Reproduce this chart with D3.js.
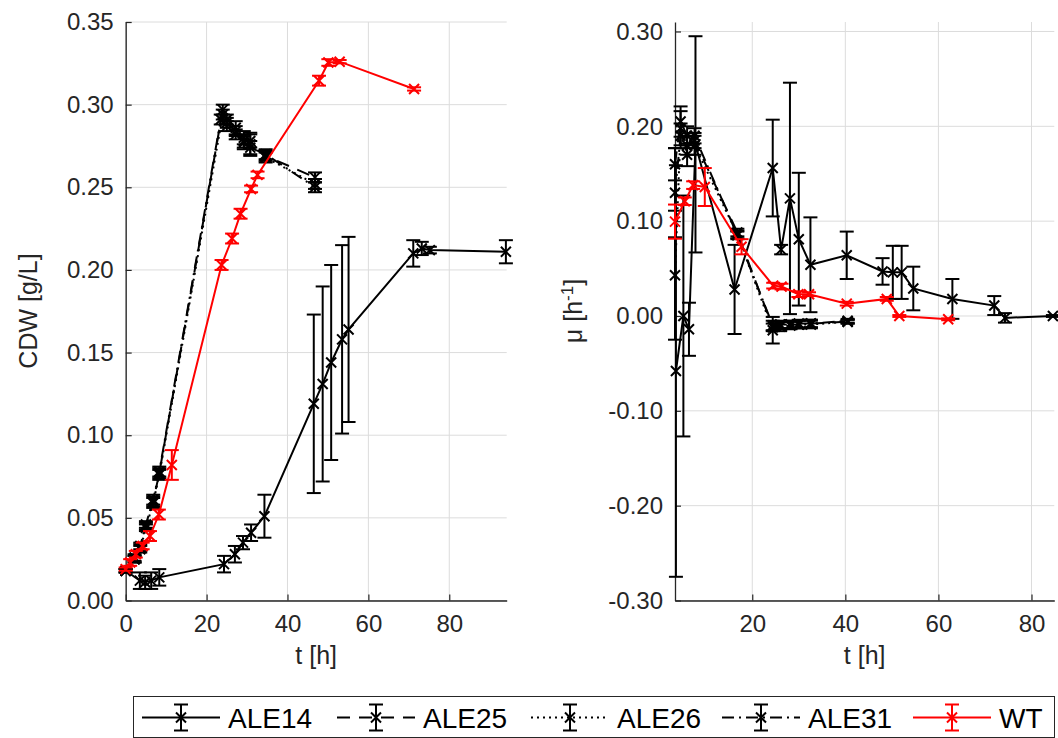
<!DOCTYPE html>
<html><head><meta charset="utf-8">
<script src="https://cdn.jsdelivr.net/npm/d3@7"></script>
<style>body{margin:0;background:#fff}svg{display:block;font-family:"Liberation Sans",Arial,sans-serif}</style>
</head><body><svg id="c" width="1058" height="738"></svg>
<script>
// ---------- data (left: CDW) ----------
const tCdw14 = [0, 3.5, 4.8, 6.3, 8.3, 24.3, 27.0, 29.0, 31.0, 34.3, 46.5, 48.7, 50.8, 53.5, 55.1, 71.1, 73.2, 75.2, 94.0];
const cdw14 = [0.018, 0.012, 0.011, 0.012, 0.014, 0.022, 0.028, 0.035, 0.041, 0.051, 0.119, 0.131, 0.144, 0.158, 0.164, 0.210, 0.213, 0.212, 0.211];
const cdw14Err = [0.001, 0.005, 0.004, 0.005, 0.005, 0.005, 0.005, 0.004, 0.005, 0.013, 0.054, 0.059, 0.059, 0.057, 0.056, 0.008, 0.004, 0.002, 0.007];

const tCdwAle = [0, 2.2, 3.6, 5.0, 6.8, 8.3, 24.0, 25.0, 27.2, 29.2, 30.8, 34.6, 46.8];
const cdw25 = [0.018, 0.025, 0.032, 0.045, 0.060, 0.077, 0.297, 0.291, 0.286, 0.280, 0.276, 0.269, 0.256];
const cdw25Err = [0.001, 0.002, 0.002, 0.002, 0.003, 0.003, 0.003, 0.003, 0.004, 0.004, 0.007, 0.003, 0.003];
const cdw26 = [0.018, 0.025, 0.031, 0.044, 0.059, 0.076, 0.294, 0.289, 0.284, 0.278, 0.278, 0.268, 0.252];
const cdw26Err = [0.001, 0.002, 0.002, 0.002, 0.003, 0.003, 0.003, 0.003, 0.003, 0.004, 0.004, 0.003, 0.003];
const tCdw31 = [0, 2.2, 3.6, 5.0, 6.8, 8.3, 23.5, 25.0, 27.2, 29.2, 30.8, 34.6, 46.8];
const cdw31 = [0.018, 0.026, 0.033, 0.046, 0.061, 0.078, 0.291, 0.287, 0.282, 0.277, 0.274, 0.270, 0.250];
const cdw31Err = [0.001, 0.002, 0.002, 0.002, 0.003, 0.003, 0.003, 0.003, 0.003, 0.004, 0.004, 0.003, 0.003];

const tCdwWT = [0, 1.1, 2.5, 4.2, 6.0, 8.2, 11.4, 23.7, 26.3, 28.4, 31.0, 32.6, 47.8, 50.1, 52.9, 71.3];
const cdwWT = [0.019, 0.023, 0.028, 0.033, 0.039, 0.052, 0.082, 0.203, 0.219, 0.234, 0.249, 0.2575, 0.3145, 0.3255, 0.326, 0.3095];
const cdwWTErr = [0.001, 0.002, 0.002, 0.002, 0.003, 0.003, 0.009, 0.003, 0.003, 0.003, 0.002, 0.002, 0.003, 0.002, 0.001, 0.001];

// ---------- data (right: growth rate mu) ----------
const tMu14 = [3.6, 5.2, 6.4, 7.8, 16.2, 24.4, 26.2, 28.1, 30.0, 32.5, 40.3, 48.0, 50.2, 52.1, 54.6, 63.0, 72.0, 74.3, 84.6];
const mu14 = [-0.058, 0.0, -0.014, 0.181, 0.028, 0.156, 0.070, 0.124, 0.081, 0.054, 0.064, 0.047, 0.046, 0.046, 0.029, 0.018, 0.011, -0.002, 0.0];
const mu14Err = [0.217, 0.127, 0.028, 0.114, 0.047, 0.051, 0.005, 0.122, 0.070, 0.050, 0.025, 0.014, 0.028, 0.028, 0.023, 0.021, 0.010, 0.005, 0.001];

const tMuAle = [3.4, 4.6, 6.0, 7.6, 16.8, 24.4, 26.0, 28.2, 30.0, 32.6, 40.5];
const mu25 = [0.160, 0.205, 0.190, 0.185, 0.088, -0.012, -0.010, -0.009, -0.009, -0.008, -0.006];
const mu25Err = [0.017, 0.016, 0.010, 0.008, 0.004, 0.004, 0.004, 0.004, 0.004, 0.004, 0.002];
const mu26 = [0.043, 0.198, 0.170, 0.180, 0.086, -0.015, -0.011, -0.010, -0.009, -0.009, -0.006];
const mu26Err = [0.068, 0.018, 0.012, 0.010, 0.004, 0.014, 0.005, 0.004, 0.004, 0.004, 0.002];
const mu31 = [0.130, 0.190, 0.180, 0.190, 0.085, -0.010, -0.009, -0.009, -0.008, -0.008, -0.005];
const mu31Err = [0.047, 0.013, 0.010, 0.008, 0.004, 0.005, 0.004, 0.004, 0.004, 0.004, 0.002];

const tMuWT = [3.4, 5.5, 7.3, 9.8, 17.7, 24.5, 26.3, 29.9, 32.2, 40.3, 48.9, 51.6, 62.1];
const muWT = [0.0995, 0.121, 0.138, 0.136, 0.073, 0.032, 0.031, 0.023, 0.023, 0.013, 0.018, 0.0, -0.0035];
const muWTErr = [0.018, 0.004, 0.004, 0.020, 0.008, 0.003, 0.003, 0.003, 0.002, 0.002, 0.002, 0.001, 0.001];

// ---------- axis limits & ticks ----------
const cdwXLim = [0, 94.2], cdwYLim = [0, 0.35];
const muXLim = [3.4, 84.9], muYLim = [-0.3, 0.31];
const cdwXTicks = [0, 20, 40, 60, 80];
const cdwYTicks = [0, 0.05, 0.10, 0.15, 0.20, 0.25, 0.30, 0.35];
const muXTicks = [20, 40, 60, 80];
const muYTicks = [-0.3, -0.2, -0.1, 0, 0.1, 0.2, 0.3];
const seriesNames = ["ALE14", "ALE25", "ALE26", "ALE31", "WT"];

// ---------- styles ----------
const textCol = "#262626";
const styles = {
  ALE14: {color: "#000", dash: null},
  ALE25: {color: "#000", dash: "13,9"},
  ALE26: {color: "#000", dash: "2,4"},
  ALE31: {color: "#000", dash: "12,5,2,5"},
  WT: {color: "#ff0000", dash: null}
};

const svg = d3.select("#c");
const plotTop = 22, plotBottom = 600.5;

function panel(opts) {
  const x = d3.scaleLinear().domain(opts.xlim).range([opts.left, opts.right]);
  const y = d3.scaleLinear().domain(opts.ylim).range([plotBottom, plotTop]);
  const g = svg.append("g");
  g.append("g").selectAll("line").data(opts.xticks).join("line")
    .attr("x1", d => x(d)).attr("x2", d => x(d)).attr("y1", plotTop).attr("y2", plotBottom)
    .attr("stroke", "#dcdcdc").attr("stroke-width", 1);
  g.append("g").selectAll("line").data(opts.yticks).join("line")
    .attr("x1", opts.left).attr("x2", opts.right).attr("y1", d => y(d)).attr("y2", d => y(d))
    .attr("stroke", "#dcdcdc").attr("stroke-width", 1);
  const xa = d3.axisBottom(x).tickValues(opts.xticks).tickSizeInner(-6).tickSizeOuter(0).tickPadding(14)
    .tickFormat(d3.format("d"));
  const gx = g.append("g").attr("transform", `translate(0,${plotBottom})`).call(xa);
  const ya = d3.axisLeft(y).tickValues(opts.yticks).tickSizeInner(-6).tickSizeOuter(0).tickPadding(12)
    .tickFormat(d => d3.format(".2f")(d).replace("−", "-"));
  const gy = g.append("g").attr("transform", `translate(${opts.left},0)`).call(ya);
  [gx, gy].forEach(a => {
    a.select(".domain").attr("stroke", textCol).attr("stroke-width", 1.3);
    a.selectAll(".tick line").attr("stroke", textCol).attr("stroke-width", 1.2);
    a.selectAll(".tick text").attr("fill", textCol).style("font-size", "24px").style("font-family", "Liberation Sans, Arial, sans-serif");
  });
  g.append("text").attr("x", (opts.left + opts.right) / 2).attr("y", 664)
    .attr("text-anchor", "middle").attr("fill", textCol).style("font-size", "25px").text("t [h]");
  return {x, y, g};
}

function drawSeries(p, name, ts, vs, es) {
  const st = styles[name];
  const pts = ts.map((t, i) => ({t, v: vs[i], e: es[i]}));
  const g = p.g.append("g");
  const eb = g.append("g").attr("stroke", st.color).attr("stroke-width", 2).attr("fill", "none");
  pts.forEach(d => {
    const cx = p.x(d.t), y1 = p.y(d.v - d.e), y2 = p.y(d.v + d.e);
    eb.append("line").attr("x1", cx).attr("x2", cx).attr("y1", y1).attr("y2", y2);
    eb.append("line").attr("x1", cx - 7).attr("x2", cx + 7).attr("y1", y1).attr("y2", y1);
    eb.append("line").attr("x1", cx - 7).attr("x2", cx + 7).attr("y1", y2).attr("y2", y2);
  });
  g.append("path").datum(pts)
    .attr("d", d3.line().x(d => p.x(d.t)).y(d => p.y(d.v)))
    .attr("fill", "none").attr("stroke", st.color).attr("stroke-width", 2)
    .attr("stroke-dasharray", st.dash);
  g.append("g").selectAll("path").data(pts).join("path")
    .attr("d", d => { const cx = p.x(d.t), cy = p.y(d.v), s = 5;
      return `M${cx - s},${cy - s}L${cx + s},${cy + s}M${cx - s},${cy + s}L${cx + s},${cy - s}`; })
    .attr("stroke", st.color).attr("stroke-width", 2);
}

const L = panel({left: 125.7, right: 506.7, xlim: cdwXLim, ylim: cdwYLim, xticks: cdwXTicks, yticks: cdwYTicks});
drawSeries(L, "ALE14", tCdw14, cdw14, cdw14Err);
drawSeries(L, "ALE25", tCdwAle, cdw25, cdw25Err);
drawSeries(L, "ALE26", tCdwAle, cdw26, cdw26Err);
drawSeries(L, "ALE31", tCdw31, cdw31, cdw31Err);
drawSeries(L, "WT", tCdwWT, cdwWT, cdwWTErr);
svg.append("text").attr("transform", "translate(37,311) rotate(-90)").attr("text-anchor", "middle")
  .attr("fill", textCol).style("font-size", "25px").text("CDW [g/L]");

const R = panel({left: 675, right: 1054.3, xlim: muXLim, ylim: muYLim, xticks: muXTicks, yticks: muYTicks});
drawSeries(R, "ALE14", tMu14, mu14, mu14Err);
drawSeries(R, "ALE25", tMuAle, mu25, mu25Err);
drawSeries(R, "ALE26", tMuAle, mu26, mu26Err);
drawSeries(R, "ALE31", tMuAle, mu31, mu31Err);
drawSeries(R, "WT", tMuWT, muWT, muWTErr);
const ml = svg.append("text").attr("transform", "translate(582,311) rotate(-90)").attr("text-anchor", "middle")
  .attr("fill", textCol).style("font-size", "25px");
ml.append("tspan").text("μ [h");
ml.append("tspan").attr("dy", -9).style("font-size", "17px").text("-1");
ml.append("tspan").attr("dy", 9).text("]");

const lg = svg.append("g");
lg.append("rect").attr("x", 133.5).attr("y", 696.5).attr("width", 921).attr("height", 41)
  .attr("fill", "#fff").attr("stroke", textCol).attr("stroke-width", 1);
const legX = [142, 337, 531, 722, 913];
seriesNames.forEach((n, i) => {
  const st = styles[n], x0 = legX[i], cy = 717.5, cx = x0 + 39;
  lg.append("line").attr("x1", x0).attr("x2", x0 + 78).attr("y1", cy).attr("y2", cy)
    .attr("stroke", st.color).attr("stroke-width", 2).attr("stroke-dasharray", st.dash);
  lg.append("path").attr("d", `M${cx},${cy - 13}V${cy + 13}M${cx - 7},${cy - 13}H${cx + 7}M${cx - 7},${cy + 13}H${cx + 7}M${cx - 5},${cy - 5}L${cx + 5},${cy + 5}M${cx - 5},${cy + 5}L${cx + 5},${cy - 5}`)
    .attr("stroke", st.color).attr("stroke-width", 2).attr("fill", "none");
  lg.append("text").attr("x", x0 + 86).attr("y", cy + 10).attr("fill", "#000")
    .style("font-size", "28px").text(n);
});
</script></body></html>
